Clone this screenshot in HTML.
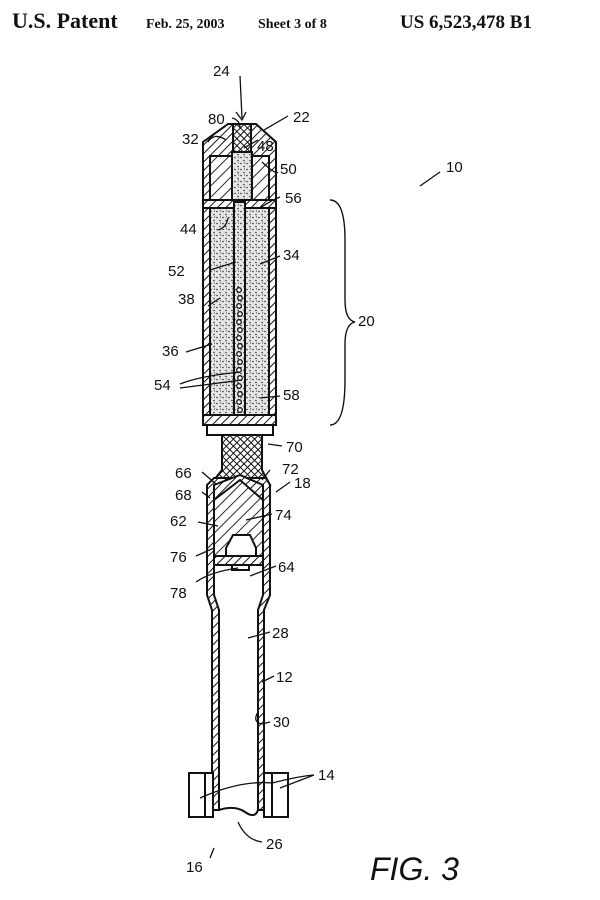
<!DOCTYPE html>
<html><head><style>
html,body{margin:0;padding:0;background:#fff;}
svg{display:block;}
text{font-family:"Liberation Sans",sans-serif;font-size:15px;fill:#111;}
</style></head><body>
<svg width="600" height="900" viewBox="0 0 600 900" xmlns="http://www.w3.org/2000/svg">
<defs>
<pattern id="h" width="6" height="6" patternUnits="userSpaceOnUse" patternTransform="rotate(45)">
<rect width="6" height="6" fill="#fff"/><line x1="0" y1="0" x2="0" y2="6" stroke="#111" stroke-width="2"/></pattern>
<pattern id="hb" width="8" height="8" patternUnits="userSpaceOnUse" patternTransform="rotate(45)">
<rect width="8" height="8" fill="#fff"/><line x1="0" y1="0" x2="0" y2="8" stroke="#111" stroke-width="1.8"/></pattern>
<pattern id="x" width="5" height="5" patternUnits="userSpaceOnUse" patternTransform="rotate(45)">
<rect width="5" height="5" fill="#fff"/><line x1="0" y1="0" x2="0" y2="5" stroke="#111" stroke-width="2"/><line x1="0" y1="0" x2="5" y2="0" stroke="#111" stroke-width="2"/></pattern>
<pattern id="d" width="6" height="6" patternUnits="userSpaceOnUse">
<rect width="6" height="6" fill="#e6e6e6"/><circle cx="1" cy="1.5" r="0.8" fill="#333"/><circle cx="4" cy="4.5" r="0.8" fill="#333"/><circle cx="4.5" cy="1" r="0.6" fill="#444"/></pattern>
</defs>
<text x="12" y="28" style="font-family:'Liberation Serif',serif;font-size:22px;font-weight:bold">U.S. Patent</text>
<text x="146" y="28" style="font-family:'Liberation Serif',serif;font-size:14px;font-weight:bold">Feb. 25, 2003</text>
<text x="258" y="28" style="font-family:'Liberation Serif',serif;font-size:14px;font-weight:bold">Sheet 3 of 8</text>
<text x="400" y="28" style="font-family:'Liberation Serif',serif;font-size:19px;font-weight:bold">US 6,523,478 B1</text>

<g stroke="#111" stroke-width="2">
<path d="M228 124 L256 124 L276 142 L276 200 L203 200 L203 142 Z" fill="url(#h)"/>
<rect x="233" y="124" width="18" height="28" fill="url(#x)"/>
<rect x="210" y="156" width="59" height="44" fill="url(#hb)"/>
<rect x="232" y="152" width="20" height="50" fill="url(#d)"/>
<rect x="203" y="200" width="73" height="225" fill="url(#h)"/>
<rect x="203" y="200" width="73" height="8" fill="url(#h)"/>
<rect x="210" y="208" width="59" height="207" fill="url(#d)"/>
<rect x="234" y="202" width="11" height="213" fill="url(#d)"/>
<rect x="203" y="415" width="73" height="10" fill="url(#h)"/>
<rect x="207" y="425" width="66" height="10" fill="#fff"/>
<path d="M222 435 L262 435 L262 470 L270 485 L210 485 L222 470 Z" fill="url(#x)"/>
<path d="M207 485 L214 478 L266 478 L270 485 L270 595 L264 610 L264 810 L258 810 L258 610 L263 595 L263 490 L214 490 L214 595 L219 610 L219 810 L212 810 L212 610 L207 595 Z" fill="url(#h)"/>
<path d="M214 485 L240 475 L263 485 L263 510 L214 510 Z" fill="url(#h)"/>
<path d="M214 500 L240 480 L263 500 L263 565 L214 565 Z" fill="url(#hb)"/>
<path d="M226 548 L233 535 L250 535 L256 548 L256 556 L226 556 Z" fill="#fff"/>
<rect x="214" y="556" width="49" height="9" fill="url(#h)"/>
<rect x="232" y="565" width="17" height="5" fill="#fff"/>
<rect x="189" y="773" width="24" height="44" fill="#fff"/>
<line x1="205" y1="773" x2="205" y2="817"/>
<rect x="264" y="773" width="24" height="44" fill="#fff"/>
<line x1="272" y1="773" x2="272" y2="817"/>
<path d="M219 810 Q235 805 245 812 T258 810" fill="none"/>
</g>
<g fill="#fff" stroke="#111" stroke-width="1.3">
<circle cx="239" cy="290" r="2.3"/><circle cx="240" cy="298" r="2.3"/><circle cx="239" cy="306" r="2.3"/><circle cx="240" cy="314" r="2.3"/><circle cx="239" cy="322" r="2.3"/><circle cx="240" cy="330" r="2.3"/><circle cx="239" cy="338" r="2.3"/><circle cx="240" cy="346" r="2.3"/><circle cx="239" cy="354" r="2.3"/><circle cx="240" cy="362" r="2.3"/><circle cx="239" cy="370" r="2.3"/><circle cx="240" cy="378" r="2.3"/><circle cx="239" cy="386" r="2.3"/><circle cx="240" cy="394" r="2.3"/><circle cx="239" cy="402" r="2.3"/><circle cx="240" cy="410" r="2.3"/>
</g>

<g fill="none" stroke="#111" stroke-width="1.3">
<path d="M240 76 L242 118"/><path d="M236 112 L242 120 L246 112"/>
<path d="M264 130 L288 116"/><path d="M420 186 L440 172"/>
<path d="M232 118 Q240 120 240 128"/><path d="M226 140 Q214 132 208 142"/>
<path d="M244 148 L258 140"/><path d="M262 162 Q276 175 278 172"/>
<path d="M260 208 Q272 200 280 197"/><path d="M218 230 Q226 228 228 218"/>
<path d="M260 264 L280 256"/><path d="M210 270 L236 262"/>
<path d="M208 306 L220 298"/><path d="M186 352 L212 344"/>
<path d="M180 384 Q200 376 240 372"/><path d="M180 388 Q210 384 242 380"/>
<path d="M260 398 L280 396"/>
<path d="M268 444 L282 446"/><path d="M202 472 L216 484"/>
<path d="M202 492 L210 498"/><path d="M262 480 L270 470"/>
<path d="M276 492 L290 482"/><path d="M198 522 L218 526"/>
<path d="M246 520 L272 514"/><path d="M196 556 L214 548"/>
<path d="M196 582 Q210 572 238 568"/><path d="M250 576 L276 566"/>
<path d="M248 638 L270 632"/><path d="M262 682 L274 676"/>
<path d="M258 712 Q252 722 262 724 L270 722"/>
<path d="M200 798 Q240 780 272 783 Q300 776 314 775"/><path d="M280 788 L314 775"/>
<path d="M238 822 Q246 840 262 842"/>
<path d="M210 858 L214 848"/>
</g>
<path d="M330 200 Q345 200 345 240 L345 300 Q345 320 355 322 Q345 324 345 344 L345 380 Q345 425 330 425" fill="none" stroke="#111" stroke-width="1.4"/>

<text x="213" y="76">24</text><text x="293" y="122">22</text><text x="446" y="172">10</text>
<text x="208" y="124">80</text><text x="257" y="151">48</text><text x="182" y="144">32</text>
<text x="280" y="174">50</text><text x="285" y="203">56</text><text x="180" y="234">44</text>
<text x="283" y="260">34</text><text x="168" y="276">52</text><text x="358" y="326">20</text>
<text x="178" y="304">38</text><text x="162" y="356">36</text><text x="154" y="390">54</text>
<text x="283" y="400">58</text><text x="286" y="452">70</text><text x="175" y="478">66</text>
<text x="282" y="474">72</text><text x="175" y="500">68</text><text x="294" y="488">18</text>
<text x="170" y="526">62</text><text x="275" y="520">74</text><text x="170" y="562">76</text>
<text x="278" y="572">64</text><text x="170" y="598">78</text><text x="272" y="638">28</text>
<text x="276" y="682">12</text><text x="273" y="727">30</text><text x="318" y="780">14</text>
<text x="266" y="849">26</text><text x="186" y="872">16</text>
<text x="370" y="880" style="font-size:32px;font-style:italic">FIG. 3</text>
</svg>
</body></html>
